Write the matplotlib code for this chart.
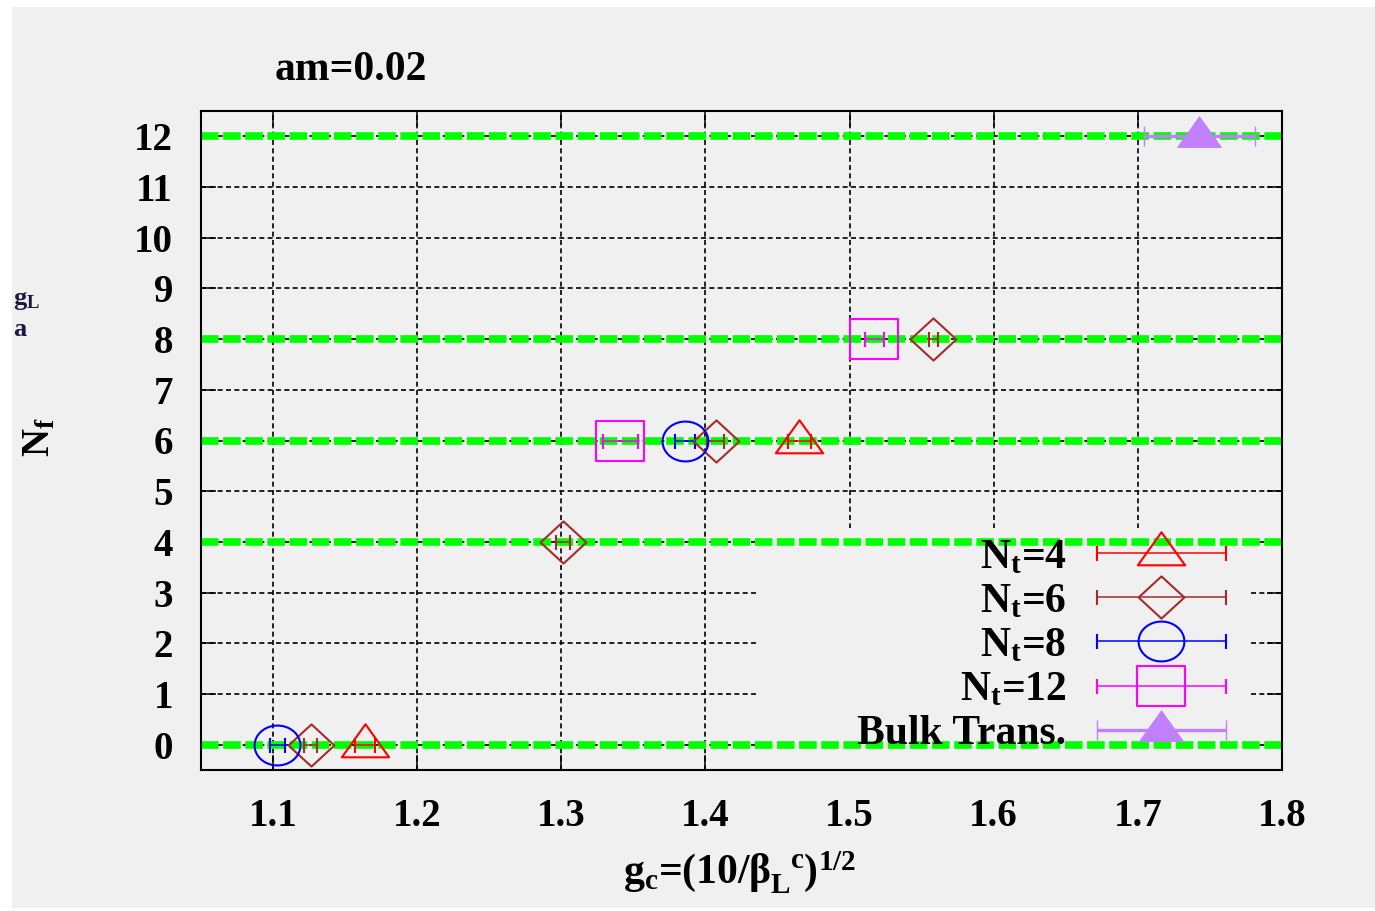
import numpy as np
import matplotlib.pyplot as plt
from matplotlib.path import Path
from matplotlib.patches import Rectangle
from matplotlib.container import ErrorbarContainer
from matplotlib.legend_handler import HandlerErrorbar

plt.rcParams['font.family'] = 'Liberation Serif'
plt.rcParams['font.weight'] = 'bold'
plt.rcParams['mathtext.fontset'] = 'custom'
plt.rcParams['mathtext.rm'] = 'Liberation Serif:bold'
plt.rcParams['mathtext.it'] = 'Liberation Serif:bold'
plt.rcParams['mathtext.bf'] = 'Liberation Serif:bold'

# --- data ---
nt4_g = [1.164, 1.465]
nt4_nf = [0, 6]
nt4_err = [0.007, 0.008]

nt6_g = [1.126, 1.301, 1.407, 1.558]
nt6_nf = [0, 4, 6, 8]
nt6_err = [0.0045, 0.005, 0.006, 0.003]

nt8_g = [1.103, 1.386]
nt8_nf = [0, 6]
nt8_err = [0.005, 0.007]

nt12_g = [1.341, 1.517]
nt12_nf = [6, 8]
nt12_err = [0.012, 0.0066]

bulk_g = [1.7425]
bulk_nf = [12]
bulk_err = [0.0385]

nf_lines = [0, 4, 6, 8, 12]
x_ticks = [1.1, 1.2, 1.3, 1.4, 1.5, 1.6, 1.7, 1.8]
y_ticks = list(range(0, 13))

# --- gnuplot-like (slightly stretched) marker shapes ---
def closed(verts):
    return Path(verts + [verts[0]], closed=True)

tri = closed([(0, 0.9), (-1, -0.5), (1, -0.5)])
diamond = closed([(-1, 0), (0, 0.92), (1, 0), (0, -0.92)])
square = closed([(-1, -0.83), (1, -0.83), (1, 0.83), (-1, 0.83)])
tt = np.linspace(0, 2 * np.pi, 60)
ellipse = closed([(np.cos(a), 0.87 * np.sin(a)) for a in tt[:-1]])

BG = '#f0f0f0'
FS = 28
LFS = 30

fig = plt.figure(figsize=(13.75, 9.11), dpi=100)
fig.add_artist(Rectangle((12 / 1375, 1 - 908 / 911), 1363 / 1375, 901 / 911,
                         transform=fig.transFigure, facecolor=BG, edgecolor='none', zorder=-5))
ax = fig.add_axes([201 / 1375, 1 - 770 / 911, 1081 / 1375, 659 / 911])
ax.set_facecolor(BG)
ax.set_axisbelow(True)

for nf in nf_lines:
    ax.axhline(nf, color='#00ff00', lw=5.5, dashes=(2.3, 0.6), zorder=2)

common = dict(linestyle='none', mfc='none', mew=1.5, elinewidth=1.1,
              capsize=5.4, capthick=1.1, zorder=3)
ax.errorbar(nt4_g, nt4_nf, xerr=nt4_err, marker=tri, ms=34, color='#ff0000',
            label=r'N$_\mathrm{t}$=4', **common)
ax.errorbar(nt6_g, nt6_nf, xerr=nt6_err, marker=diamond, ms=33, color='#a52a2a',
            label=r'N$_\mathrm{t}$=6', **common)
ax.errorbar(nt8_g, nt8_nf, xerr=nt8_err, marker=ellipse, ms=33, color='#0000ff',
            label=r'N$_\mathrm{t}$=8', **common)
ax.errorbar(nt12_g, nt12_nf, xerr=nt12_err, marker=square, ms=34, color='#ff00ff',
            label=r'N$_\mathrm{t}$=12', **common)
ax.errorbar(bulk_g, bulk_nf, xerr=bulk_err, marker=tri, ms=31, color='#c080ff',
            mfc='#c080ff', mec='#c080ff', mew=1, linestyle='none', elinewidth=2.4,
            capsize=7, capthick=2.4, zorder=3, label='Bulk Trans.')

# legend background hides the grid behind the key
ax.add_patch(Rectangle((0.515, 0.0), 0.455, 0.367, transform=ax.transAxes,
                       facecolor=BG, edgecolor='none', zorder=1))

ax.set_xlim(1.05, 1.8)
ax.set_ylim(-0.5, 12.5)
ax.set_xticks(x_ticks, [f'{v:.1f}' for v in x_ticks])
ax.set_yticks(y_ticks, [str(v) for v in y_ticks])
ax.grid(True, color='black', lw=1.2, linestyle=(0, (3, 2)))
ax.tick_params(direction='in', length=11, width=1.1, top=True, right=True,
               labelsize=FS, pad=20)
for s in ax.spines.values():
    s.set_linewidth(1.5)

leg = ax.legend(loc='lower right', bbox_to_anchor=(0.948, 0.0255), frameon=False,
                fontsize=LFS, markerfirst=False, handlelength=3.1, handletextpad=0.72,
                labelspacing=0.142, borderpad=0, borderaxespad=0,
                handler_map={ErrorbarContainer: HandlerErrorbar(xerr_size=1.55)})

fig.text(275 / 1375, 1 - 70 / 911, 'am=0.02', fontsize=30, ha='left', va='center')
fig.text(740 / 1375, 1 - 872 / 911,
         r'g$_\mathrm{c}$=(10/$\beta_\mathrm{L}^{\ \ \mathrm{c}}$)$^\mathrm{1/2}$',
         fontsize=30, ha='center', va='center')
fig.text(40 / 1375, 1 - 437 / 911, r'N$_\mathrm{f}$', fontsize=FS, rotation=90,
         ha='center', va='center')
fig.text(13 / 1375, 1 - 300 / 911, r'g$_\mathrm{L}$', fontsize=19, ha='left', va='center',
         color='#1a1a40')
fig.text(13 / 1375, 1 - 330 / 911, 'a', fontsize=19, ha='left', va='center', color='#1a1a40')

fig.savefig('out.png', dpi=100)
